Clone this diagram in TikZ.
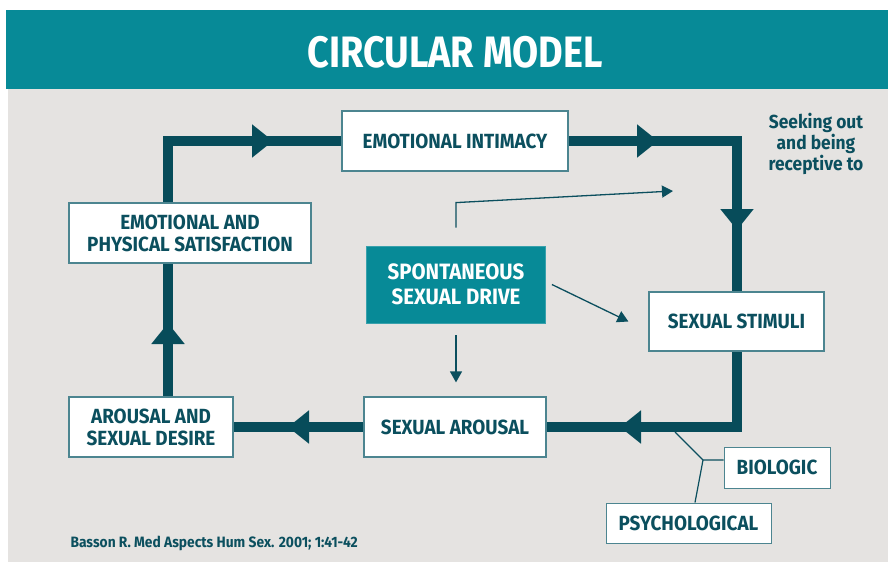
\documentclass[tikz,border=0pt]{standalone}
\usepackage{fontspec}
\setmainfont{Fira Sans}
\newfontfamily\condfont[FakeStretch=0.86]{Fira Sans}
\newfontfamily\boxfont[FakeStretch=0.92]{Fira Sans}
\usetikzlibrary{arrows.meta,decorations.markings}
\definecolor{headteal}{HTML}{078A97}
\definecolor{darkteal}{HTML}{074C5A}
\definecolor{txtteal}{HTML}{0B4F5E}
\definecolor{bggray}{HTML}{E5E3E1}
\definecolor{boxline}{HTML}{4C8590}
\tikzset{
  box/.style={draw=boxline, line width=1.2pt, fill=white, text=txtteal,
    font=\boxfont\bfseries\fontsize{20.5}{22}\selectfont, align=center, inner sep=0pt},
  drivebox/.style={fill=headteal, draw=headteal!80!white, line width=0.8pt, text=white,
    font=\boxfont\bfseries\fontsize{22.2}{25}\selectfont, align=center, inner sep=0pt},
  loopline/.style={draw=darkteal, line width=10pt},
  bigmark/.style={postaction={decorate}, decoration={markings,
    mark=at position #1 with {\arrow{Triangle[length=21pt,width=32pt]}}}},
  bigmarks/.style 2 args={postaction={decorate}, decoration={markings,
    mark=at position #1 with {\arrow{Triangle[length=21pt,width=32pt]}},
    mark=at position #2 with {\arrow{Triangle[length=21pt,width=32pt]}}}},
  thinarrow/.style={draw=txtteal, line width=1.3pt, -{Triangle[length=11pt,width=12pt]}},
  thinline/.style={draw=txtteal, line width=1.2pt},
}
\begin{document}
\begin{tikzpicture}[x=1pt,y=-1pt]
\useasboundingbox (0,0) rectangle (888,562);
\fill[white] (0,0) rectangle (888,562);
\fill[bggray] (8,89) rectangle (888,562);
\fill[headteal] (6,10) rectangle (888,89);
\node[text=white, font=\condfont\bfseries\fontsize{44}{52}\selectfont] (title) at (455,52) {CIRCULAR MODEL};

\coordinate (tl) at (168,141);
\coordinate (tr) at (737,141);
\coordinate (br) at (737,427);

% loop (drawn first, boxes on top)
\path[loopline, bigmark=167pt] (168,203) -- (tl) -- (342,141);
\path[loopline, bigmarks={90pt}{258pt}] (568,141) -- (tr) -- (737,292);
\path[loopline, bigmark=193pt] (737,351) -- (br) -- (546,427);
\path[loopline, bigmark=76pt] (364,427) -- (233,427);
\path[loopline, bigmark=74pt] (168,397) -- (168,263);

\node[box, minimum width=226pt, minimum height=60pt] (ei) at (455,141) {EMOTIONAL INTIMACY};
\node[box, minimum width=242pt, minimum height=60pt] (eps) at (190,233) {EMOTIONAL AND\\PHYSICAL SATISFACTION};
\node[box, minimum width=164pt, minimum height=60pt] (ad) at (151,427) {AROUSAL AND\\SEXUAL DESIRE};
\node[box, minimum width=182pt, minimum height=60pt] (sa) at (455,427) {SEXUAL AROUSAL};
\node[box, minimum width=175pt, minimum height=59pt] (ss) at (736.5,321.5) {SEXUAL STIMULI};
\node[drivebox, minimum width=179pt, minimum height=77pt] (sd) at (456,284.5) {SPONTANEOUS\\SEXUAL DRIVE};
\node[box, minimum width=106pt, minimum height=41pt, line width=1pt] (bio) at (777,467.5) {BIOLOGIC};
\node[box, minimum width=165pt, minimum height=40pt, line width=1pt] (psy) at (688.5,523) {PSYCHOLOGICAL};

\node[text=txtteal, align=center, font=\boxfont\bfseries\fontsize{18.9}{21}\selectfont] (seek) at (816,144) {Seeking out\\and being\\receptive to};
\node[text=txtteal, anchor=west, font=\boxfont\bfseries\fontsize{15}{18}\selectfont] (cite) at (67,543) {Basson R. Med Aspects Hum Sex. 2001; 1:41-42};

% thin arrows from spontaneous drive
\coordinate (rt) at (673,191);
\draw[thinarrow] ([yshift=18pt]sd.north) -- ++(0,-25) -- (rt);
\draw[thinarrow] ([xshift=6pt]sd.east) -- ([xshift=-20pt]ss.west);
\draw[thinarrow] ([yshift=-12pt]sd.south) -- ++(0,47);

% biologic / psychological connectors
\coordinate (lp) at (675,432);
\coordinate (jn) at (703,460);
\draw[thinline] (lp) -- (jn) -- (jn -| bio.west);
\draw[thinline] (jn) -- ([xshift=6.5pt]psy.north);
\end{tikzpicture}
\end{document}
